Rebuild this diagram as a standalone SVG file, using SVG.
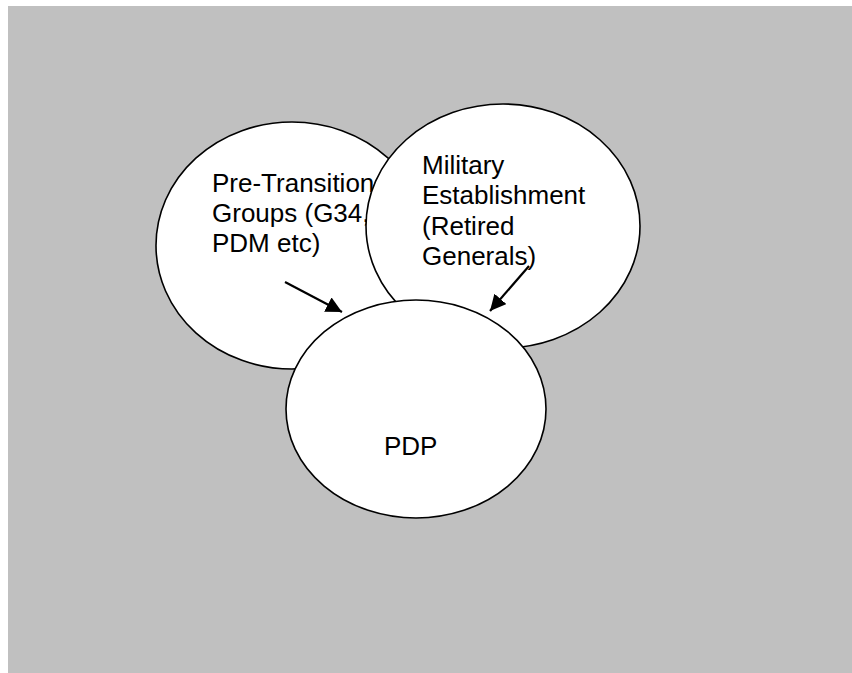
<svg xmlns="http://www.w3.org/2000/svg" width="852" height="673" viewBox="0 0 852 673">
<style>
.bubble{fill:#ffffff;stroke:#000000;stroke-width:1.6}
.lbl{font-family:"Liberation Sans",Arial,sans-serif;font-size:26px;fill:#000000}
.conn{stroke:#000000;stroke-width:2.2;fill:none}
</style>
<defs>
<marker id="ah" markerUnits="userSpaceOnUse" markerWidth="18" markerHeight="16" refX="16" refY="8" orient="auto">
<path d="M0,0 L16,8 L0,16 Z" fill="#000000"/>
</marker>
</defs>
<rect x="0" y="0" width="852" height="673" fill="#ffffff"/>
<rect x="8" y="6" width="844" height="667" fill="#c0c0c0"/>
<g id="node-pretransition">
<ellipse class="bubble" cx="292" cy="245.5" rx="136" ry="123.5"/>
<text class="lbl" x="212" y="192">Pre-Transition</text>
<text class="lbl" x="212" y="222">Groups (G34,</text>
<text class="lbl" x="212" y="252">PDM etc)</text>
</g>
<g id="node-military">
<ellipse class="bubble" cx="503" cy="226" rx="137" ry="122"/>
<text class="lbl" x="422" y="173.5">Military</text>
<text class="lbl" x="422" y="204">Establishment</text>
<text class="lbl" x="422" y="234.5">(Retired</text>
<text class="lbl" x="422" y="265">Generals)</text>
</g>
<g id="node-pdp">
<ellipse class="bubble" cx="416" cy="409" rx="130" ry="109"/>
<text class="lbl" x="384" y="455">PDP</text>
</g>
<g id="connectors">
<line class="conn" x1="285" y1="282" x2="342" y2="312" marker-end="url(#ah)"/>
<line class="conn" x1="529" y1="266" x2="490" y2="311" marker-end="url(#ah)"/>
</g>
</svg>
